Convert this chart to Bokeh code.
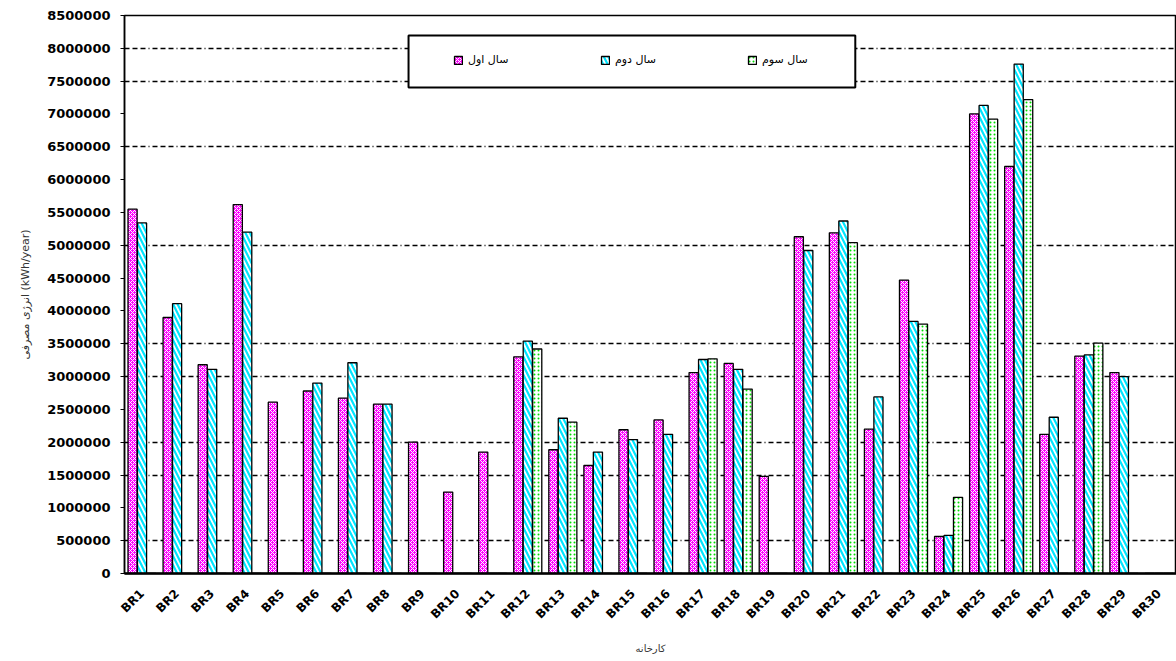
from bokeh.plotting import figure
from bokeh.models import (FactorRange, FixedTicker, BoxAnnotation, Legend,
                          LegendItem, NumeralTickFormatter, Range1d, ColumnDataSource)
from bokeh.transform import dodge
from bokeh.embed import file_html
from bokeh.resources import INLINE

# factories
factories = ["BR%d" % i for i in range(1, 31)]

# yearly energy use (kWh/year)
year1 = [5550000, 3900000, 3180000, 5620000, 2610000, 2780000, 2670000, 2580000,
         2000000, 1240000, 1850000, 3300000, 1885000, 1645000, 2190000, 2340000,
         3060000, 3200000, 1480000, 5130000, 5190000, 2200000, 4470000, 564000,
         7000000, 6200000, 2120000, 3310000, 3060000, 0]
year2 = [5340000, 4110000, 3110000, 5200000, 0, 2900000, 3210000, 2580000,
         0, 0, 0, 3540000, 2365000, 1850000, 2040000, 2120000,
         3260000, 3110000, 0, 4920000, 5370000, 2690000, 3840000, 580000,
         7130000, 7760000, 2380000, 3330000, 3000000, 0]
year3 = [0, 0, 0, 0, 0, 0, 0, 0,
         0, 0, 0, 3420000, 2305000, 0, 0, 0,
         3270000, 2810000, 0, 0, 5040000, 0, 3800000, 1160000,
         6920000, 7220000, 0, 3510000, 0, 0]

series_names = ["سال اول", "سال دوم", "سال سوم"]
y_ticks = list(range(0, 8500001, 500000))
grid_levels = [500000, 1500000, 2000000, 3000000, 3500000, 5000000,
               6500000, 7500000, 8000000]

src = ColumnDataSource(dict(f=factories, y1=year1, y2=year2, y3=year3))

p = figure(width=1176, height=661, output_backend="svg", toolbar_location=None,
           x_range=FactorRange(*factories, range_padding=0),
           y_range=Range1d(0, 8500000),
           min_border_left=124, min_border_top=15, min_border_right=0,
           min_border_bottom=88)
p.background_fill_color = "white"
p.border_fill_color = "white"
p.outline_line_color = "black"
p.outline_line_width = 1.5

bw = 0.26
r1 = p.vbar(x=dodge("f", -0.27, range=p.x_range), top="y1", width=bw, source=src,
            fill_color="#FF00FF", hatch_pattern="diagonal_cross", hatch_color="white",
            hatch_scale=4, hatch_weight=1, line_color="black", line_width=1.3)
r2 = p.vbar(x=dodge("f", 0.0, range=p.x_range), top="y2", width=bw, source=src,
            fill_color="white", hatch_pattern="left_diagonal_line", hatch_color="#00E5FF",
            hatch_scale=9, hatch_weight=2.2, line_color="black", line_width=1.3)
r3 = p.vbar(x=dodge("f", 0.27, range=p.x_range), top="y3", width=bw, source=src,
            fill_color="white", hatch_pattern="dot", hatch_color="#00DD00",
            hatch_scale=4, hatch_weight=2.5, line_color="black", line_width=1.3)

# grid
p.xgrid.grid_line_color = None
p.ygrid.ticker = FixedTicker(ticks=grid_levels)
p.ygrid.grid_line_color = "black"
p.ygrid.grid_line_dash = "5 3 5 3 5 3 1 3"
p.ygrid.grid_line_width = 1.3

# y axis
p.yaxis.ticker = FixedTicker(ticks=y_ticks)
p.yaxis.formatter = NumeralTickFormatter(format="0")
p.yaxis.major_label_text_font = "DejaVu Sans"
p.yaxis.major_label_text_font_style = "bold"
p.yaxis.major_label_text_font_size = "13px"
p.yaxis.major_label_text_color = "black"
p.yaxis.major_label_standoff = 10
p.yaxis.major_tick_out = 4
p.yaxis.major_tick_in = 0
p.yaxis.minor_tick_line_color = None
p.yaxis.axis_line_width = 1.5
p.yaxis.axis_label = "انرژی مصرفی (kWh/year)"
p.yaxis.axis_label_text_font = "DejaVu Sans"
p.yaxis.axis_label_text_font_style = "normal"
p.yaxis.axis_label_text_font_size = "11px"
p.yaxis.axis_label_text_color = "#333333"
p.yaxis.axis_label_standoff = 12

# x axis
p.xaxis.major_label_orientation = 0.785
p.xaxis.major_label_text_font = "DejaVu Sans"
p.xaxis.major_label_text_font_style = "bold"
p.xaxis.major_label_text_font_size = "12px"
p.xaxis.major_label_text_color = "black"
p.xaxis.major_label_standoff = 12
p.xaxis.major_tick_line_color = None
p.xaxis.axis_line_width = 2.5
p.xaxis.axis_label = "کارخانه"
p.xaxis.axis_label_text_font = "DejaVu Sans"
p.xaxis.axis_label_text_font_style = "normal"
p.xaxis.axis_label_text_font_size = "10px"
p.xaxis.axis_label_text_color = "#333333"
p.xaxis.axis_label_standoff = 14

# legend frame
box = BoxAnnotation(left=8.10, right=20.84, bottom=7403000, top=8195000,
                    fill_color="white", fill_alpha=1.0, line_color="black",
                    line_alpha=1.0, line_width=2)
p.add_layout(box)

legend = Legend(items=[LegendItem(label=series_names[0], renderers=[r1]),
                       LegendItem(label=series_names[1], renderers=[r2]),
                       LegendItem(label=series_names[2], renderers=[r3])],
                orientation="horizontal", location=(329, 507),
                padding=0, margin=0, spacing=82,
                glyph_width=10, glyph_height=10, label_width=50, label_height=10,
                label_standoff=5, border_line_alpha=0, background_fill_alpha=0,
                label_text_font="DejaVu Sans", label_text_font_size="11px",
                label_text_color="black")
p.add_layout(legend)

open("out.html", "w").write(file_html(p, INLINE))
